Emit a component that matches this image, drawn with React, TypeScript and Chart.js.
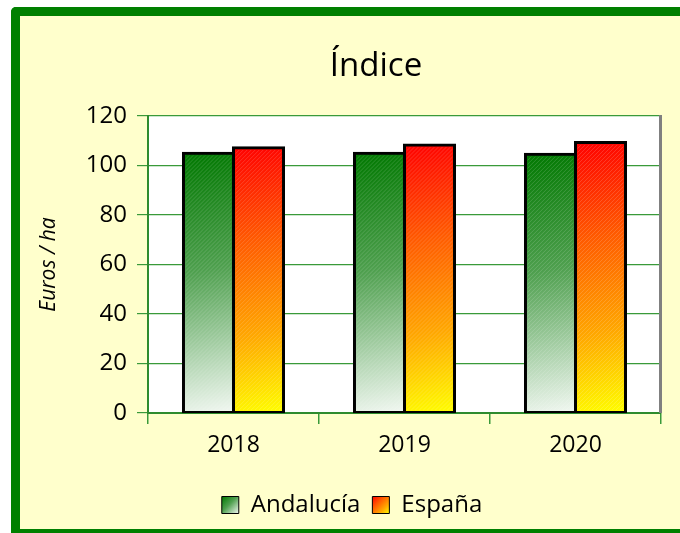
import React, { useEffect, useRef } from "react";
import { Chart, registerables } from "chart.js";

Chart.register(...registerables);

const categories = ["2018", "2019", "2020"];
const seriesNames = ["Andalucía", "España"];
const andalucia = [105.0, 105.0, 104.5];
const espana = [107.2, 108.3, 109.3];
const yTicks = [0, 20, 40, 60, 80, 100, 120];
const titleText = "Índice";
const yAxisTitle = "Euros / ha";

const FONT = "'Open Sans', sans-serif";
const CAT_PCT = 0.585;
const GRID = "#3a9a3a";
const AXIS = "#2e8b2e";

const greenStops: [number, string][] = [
  [0, "#007800"],
  [0.45, "#4fa04f"],
  [0.8, "#b9d9b9"],
  [1, "#f2f8f2"],
];
const redStops: [number, string][] = [
  [0, "#ff0000"],
  [0.35, "#ff5a00"],
  [0.7, "#ffa800"],
  [1, "#ffff00"],
];

function makeBg(stops: [number, string][], fallback: string) {
  return (c: any) => {
    const chart = c.chart;
    const xs = chart.scales?.x;
    const ys = chart.scales?.y;
    if (c.type !== "data" || !xs || !ys || !chart.chartArea) return fallback;
    const center = xs.getPixelForValue(c.dataIndex);
    const cw = Math.abs(xs.getPixelForValue(1) - xs.getPixelForValue(0));
    const bw = (cw * CAT_PCT) / 2;
    const x0 = c.datasetIndex === 0 ? center - bw : center;
    const top = ys.getPixelForValue(c.raw);
    const bottom = ys.getPixelForValue(0);
    const g = chart.ctx.createLinearGradient(x0, top, x0 + bw, bottom);
    stops.forEach(([o, col]) => g.addColorStop(o, col));
    return g;
  };
}

const framePlugin = {
  id: "framePlugin",
  afterLayout(chart: any) {
    const t = chart.titleBlock;
    if (t) {
      const dx = 356 - (t.left + t.right) / 2;
      t.left += dx;
      t.right += dx;
    }
    const l = chart.legend;
    if (l) {
      const dx = 332 - (l.left + l.right) / 2;
      l.left += dx;
      l.right += dx;
    }
  },
  beforeDraw(chart: any) {
    const { ctx, chartArea } = chart;
    ctx.save();
    ctx.fillStyle = "#ffffff";
    ctx.fillRect(chartArea.left, chartArea.top, chartArea.right - chartArea.left, chartArea.bottom - chartArea.top);
    ctx.restore();
    const l = chart.legend;
    if (l && l.legendItems && l.legendHitBoxes) {
      l.legendItems.forEach((item: any, i: number) => {
        const hb = l.legendHitBoxes[i];
        if (!hb) return;
        const top = hb.top + (hb.height - 17) / 2;
        const g = ctx.createLinearGradient(hb.left, top, hb.left + 17, top + 17);
        (i === 0 ? greenStops : redStops).forEach(([o, col]) => g.addColorStop(o, col));
        item.fillStyle = g;
        item.lineWidth = 1;
        item.strokeStyle = "#000000";
      });
    }
  },
  beforeDatasetsDraw(chart: any) {
    const { ctx, chartArea } = chart;
    ctx.save();
    ctx.strokeStyle = "#808080";
    ctx.lineWidth = 3;
    ctx.beginPath();
    ctx.moveTo(chartArea.right - 0.5, chartArea.top - 1);
    ctx.lineTo(chartArea.right - 0.5, chartArea.bottom);
    ctx.stroke();
    ctx.restore();
  },
  afterDatasetsDraw(chart: any) {
    const { ctx } = chart;
    chart.data.datasets.forEach((_: any, di: number) => {
      const meta = chart.getDatasetMeta(di);
      meta.data.forEach((bar: any) => {
        const left = bar.x - bar.width / 2 + 2;
        const right = bar.x + bar.width / 2 - 2;
        const top = Math.min(bar.y, bar.base) + 2;
        const bottom = Math.max(bar.y, bar.base) - 2;
        ctx.save();
        ctx.beginPath();
        ctx.rect(left, top, right - left, bottom - top);
        ctx.clip();
        ctx.strokeStyle = "rgba(255,255,255,0.16)";
        ctx.lineWidth = 1;
        ctx.beginPath();
        const h = bottom - top;
        for (let s = left - h; s < right + h; s += 4) {
          ctx.moveTo(s, bottom);
          ctx.lineTo(s + h, top);
        }
        ctx.stroke();
        ctx.restore();
      });
    });
  },
};

export default function App() {
  const ref = useRef<HTMLCanvasElement | null>(null);

  useEffect(() => {
    if (!ref.current) return;
    const common = {
      borderColor: "#000000",
      borderWidth: 3,
      borderSkipped: false,
      inflateAmount: 1.5,
      barPercentage: 1,
      categoryPercentage: CAT_PCT,
    };
    const chart = new Chart(ref.current, {
      type: "bar",
      data: {
        labels: categories,
        datasets: [
          {
            label: seriesNames[0],
            data: andalucia,
            backgroundColor: makeBg(greenStops, "#4fa04f"),
            ...common,
          },
          {
            label: seriesNames[1],
            data: espana,
            backgroundColor: makeBg(redStops, "#ff6a00"),
            ...common,
          },
        ],
      },
      options: {
        animation: false,
        responsive: false,
        events: [],
        layout: { padding: { left: 0, right: 19, top: 0, bottom: 2 } },
        plugins: {
          title: {
            display: true,
            text: titleText,
            color: "#000000",
            font: { family: FONT, size: 33, weight: "normal", lineHeight: 1.2 },
            padding: { top: 31, bottom: 29.4 },
          },
          legend: {
            position: "bottom",
            labels: {
              color: "#000000",
              font: { family: FONT, size: 24 },
              boxWidth: 17,
              boxHeight: 17,
              padding: 12,
            },
          },
          tooltip: { enabled: false },
        },
        scales: {
          x: {
            grid: { display: true, drawOnChartArea: false, color: GRID, tickLength: 11, offset: true, lineWidth: 1.5 },
            border: { display: true, color: AXIS, width: 2 },
            ticks: { color: "#000000", font: { family: FONT, size: 23 }, padding: 8 },
            afterFit: (s: any) => {
              s.height = 68;
            },
          },
          y: {
            min: 0,
            max: 120,
            afterBuildTicks: (s: any) => {
              s.ticks = yTicks.map((v) => ({ value: v }));
            },
            grid: { color: GRID, tickLength: 11, lineWidth: 1.2 },
            border: { display: true, color: AXIS, width: 2 },
            ticks: { color: "#000000", font: { family: FONT, size: 24 }, padding: 10 },
            title: {
              display: true,
              text: yAxisTitle,
              color: "#000000",
              font: { family: FONT, size: 21, style: "italic", lineHeight: 1.2 },
              padding: { top: 16, bottom: 0 },
            },
            afterFit: (s: any) => {
              s.width = 128;
            },
          },
        },
      },
      plugins: [framePlugin],
    } as any);
    return () => chart.destroy();
  }, []);

  return (
    <div
      style={{
        position: "absolute",
        left: 11,
        top: 7,
        width: 660,
        height: 513,
        borderTop: "9px solid #008000",
        borderLeft: "9px solid #008000",
        borderBottom: "4px solid #008000",
        borderTopLeftRadius: 5,
        background: "#FFFFCC",
      }}
    >
      <canvas ref={ref} width={660} height={513} style={{ display: "block", width: 660, height: 513 }} />
    </div>
  );
}
